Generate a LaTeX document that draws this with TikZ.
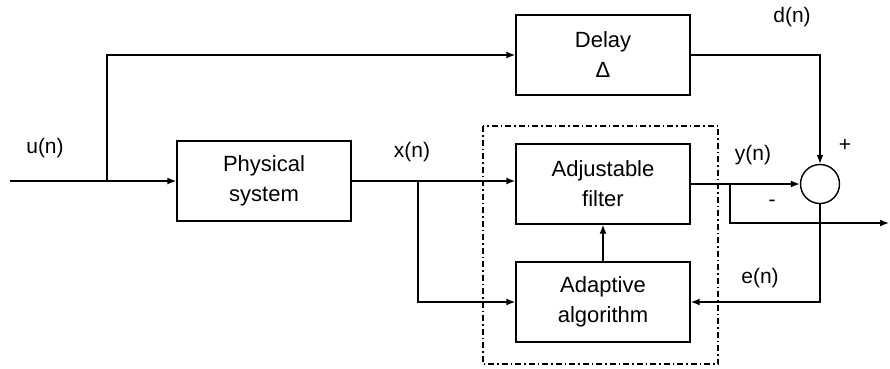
\documentclass[tikz,border=0pt]{standalone}
\usepackage{fontspec}
\setmainfont{Liberation Sans}
\usetikzlibrary{arrows.meta}
\usetikzlibrary{calc, math}

\begin{document}
\begin{tikzpicture}[x=1pt,y=1pt,
  blk/.style={draw, line width=1.4pt, minimum width=174pt, minimum height=80pt,
    align=center, font=\fontsize{22}{30}\selectfont},
  sig/.style={line width=1.4pt, -{Latex[length=9pt,width=7pt]}},
  lbl/.style={font=\fontsize{21}{24}\selectfont, inner sep=0pt},
  dashdot/.style={line width=1.4pt, dash pattern=on 6pt off 3pt on 1.5pt off 3pt}]
\tikzmath{
\yM=187;%main signal level
\yE=145;%output level
}
\useasboundingbox (0,0) rectangle (890,368);

% blocks
\node[blk] (delay) at (603,313) {Delay\\Δ};
\node[blk] (phys) at (264,\yM) {Physical\\system};
\node[blk] (filt) at (603,184) {Adjustable\\filter};
\node[blk] (algo) at (603,66) {Adaptive\\algorithm};
\node[draw, circle, line width=1.4pt, minimum size=39pt, inner sep=0pt] (sum) at (820,184) {};

\coordinate (in) at (10,\yM);
\coordinate (ubr) at (107,\yM);
\coordinate (xbr) at (418,\yM);
\coordinate (ybr) at (730,184);
\coordinate (out) at (889,\yE);

% signal paths
\draw[sig] (in) -- (phys.west);
\draw[sig] (ubr) |- (delay.west);
\draw[sig] (phys.east) -- (phys.east -| filt.west);
\draw[sig] (xbr) |- (algo.west);
\draw[sig] (filt.east) -- (sum.west);
\draw[sig] (delay.east) -| (sum.north);
\draw[sig] (ybr) |- (out);
\draw[sig] (sum.south) |- (algo.east);
\draw[sig] (algo.north) -- (filt.south);

% adaptive part
\draw[dashdot] (483,242) rectangle (718,4);

\node[lbl] (un) at (45,220) {u(n)};
\node[lbl] (xn) at (412,216) {x(n)};
\node[lbl] (dn) at (792,351) {d(n)};
\node[lbl] (yn) at (753,213) {y(n)};
\node[lbl] (en) at (760,90) {e(n)};
\node[lbl] (plus) at (845,223) {+};
\node[lbl] (minus) at (772,165) {-};
\end{tikzpicture}
\end{document}
